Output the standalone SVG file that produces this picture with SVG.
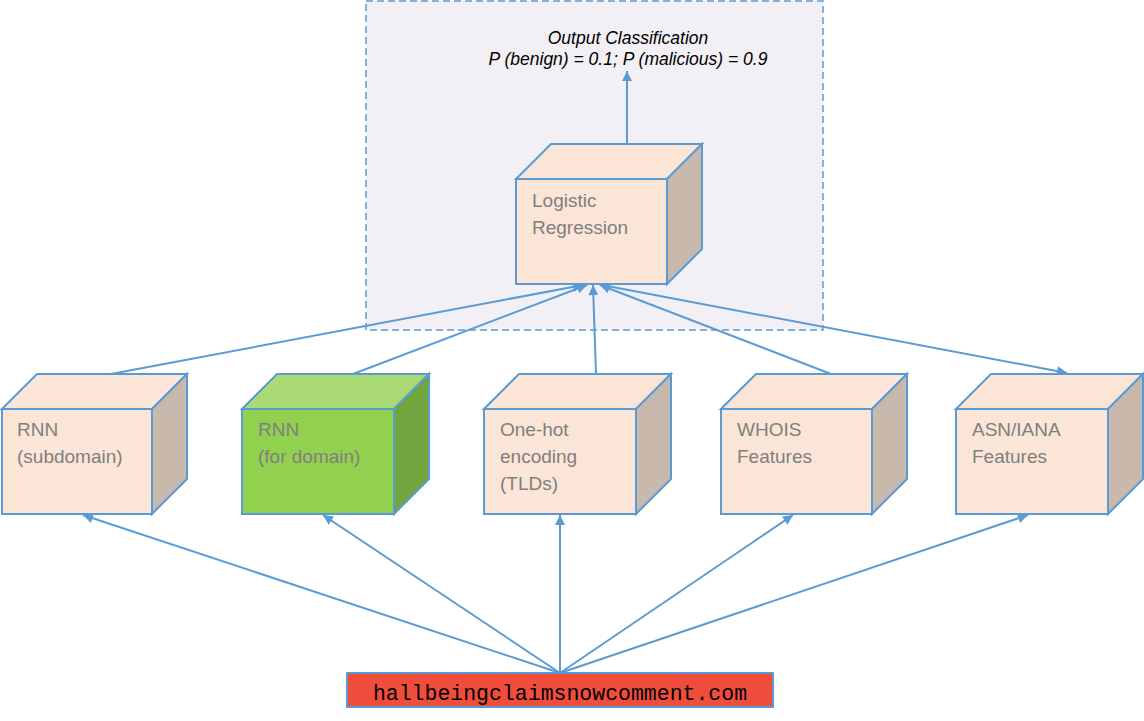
<svg xmlns="http://www.w3.org/2000/svg" width="1144" height="721" viewBox="0 0 1144 721">
<style>
.edge{stroke:#5B9BD5;stroke-width:2;fill:none}
.front{fill:#FBE5D6;stroke:#5B9BD5;stroke-width:2}
.top{fill:#FBE5D6;stroke:#5B9BD5;stroke-width:2;stroke-linejoin:miter}
.side{fill:#C9B8AC;stroke:#5B9BD5;stroke-width:2}
.gfront{fill:#92D050;stroke:#5B9BD5;stroke-width:2}
.gtop{fill:#A9DA74;stroke:#5B9BD5;stroke-width:2}
.gside{fill:#71A63E;stroke:#5B9BD5;stroke-width:2}
.lbl{font-family:"Liberation Sans",Arial,sans-serif;font-size:19px;fill:#7F7F7F}
.out{font-family:"Liberation Sans",Arial,sans-serif;font-size:17.5px;font-style:italic;fill:#000}
.mono{font-family:"Liberation Mono","Courier New",monospace;font-size:21.5px;fill:#000}
</style>
<defs>
<marker id="arr" viewBox="0 0 10 10" refX="10" refY="5" markerWidth="11" markerHeight="10" markerUnits="userSpaceOnUse" orient="auto">
<path d="M0,0 L10,5 L0,10 Z" fill="#5B9BD5"/>
</marker>
</defs>
<rect width="1144" height="721" fill="#fff"/>
<g id="container">
<rect x="366" y="1" width="457" height="329" fill="#F2F0F5" stroke="#5B9BD5" stroke-width="1.5" stroke-dasharray="7 4"/>
</g>
<g id="output">
<text class="out" x="628" y="44" text-anchor="middle">Output Classification</text>
<text class="out" x="628" y="65" text-anchor="middle">P (benign) = 0.1; P (malicious) = 0.9</text>
</g>
<g id="connectors">
<line class="edge" x1="627" y1="144" x2="627" y2="71" marker-end="url(#arr)"/>
<line class="edge" x1="111" y1="374" x2="583" y2="285" marker-end="url(#arr)"/>
<line class="edge" x1="353" y1="374" x2="587" y2="285" marker-end="url(#arr)"/>
<line class="edge" x1="596" y1="374" x2="593" y2="285" marker-end="url(#arr)"/>
<line class="edge" x1="831" y1="374" x2="600" y2="285" marker-end="url(#arr)"/>
<line class="edge" x1="602" y1="285" x2="1067" y2="373" marker-end="url(#arr)"/>
<line class="edge" x1="560" y1="673" x2="83" y2="515" marker-end="url(#arr)"/>
<line class="edge" x1="560" y1="673" x2="323" y2="515" marker-end="url(#arr)"/>
<line class="edge" x1="560" y1="673" x2="560" y2="515" marker-end="url(#arr)"/>
<line class="edge" x1="560" y1="673" x2="793" y2="515" marker-end="url(#arr)"/>
<line class="edge" x1="560" y1="673" x2="1028" y2="515" marker-end="url(#arr)"/>
</g>
<g id="logistic">
<polygon class="top" points="516,179 551,144 702,144 667,179"/>
<polygon class="side" points="667,179 702,144 702,249 667,284"/>
<rect class="front" x="516" y="179" width="151" height="105"/>
<text class="lbl" x="532" y="207">Logistic</text>
<text class="lbl" x="532" y="234">Regression</text>
</g>
<g id="rnn-subdomain">
<polygon class="top" points="2,409 37,374 187,374 152,409"/>
<polygon class="side" points="152,409 187,374 187,479 152,514"/>
<rect class="front" x="2" y="409" width="150" height="105"/>
<text class="lbl" x="17" y="436">RNN</text>
<text class="lbl" x="17" y="463">(subdomain)</text>
</g>
<g id="rnn-domain">
<polygon class="gtop" points="242,409 277,374 429,374 394,409"/>
<polygon class="gside" points="394,409 429,374 429,479 394,514"/>
<rect class="gfront" x="242" y="409" width="152" height="105"/>
<text class="lbl" x="258" y="436">RNN</text>
<text class="lbl" x="258" y="463">(for domain)</text>
</g>
<g id="one-hot">
<polygon class="top" points="484,409 519,374 671,374 636,409"/>
<polygon class="side" points="636,409 671,374 671,479 636,514"/>
<rect class="front" x="484" y="409" width="152" height="105"/>
<text class="lbl" x="500" y="436">One-hot</text>
<text class="lbl" x="500" y="463">encoding</text>
<text class="lbl" x="500" y="490">(TLDs)</text>
</g>
<g id="whois">
<polygon class="top" points="721,409 756,374 907,374 872,409"/>
<polygon class="side" points="872,409 907,374 907,479 872,514"/>
<rect class="front" x="721" y="409" width="151" height="105"/>
<text class="lbl" x="737" y="436">WHOIS</text>
<text class="lbl" x="737" y="463">Features</text>
</g>
<g id="asn">
<polygon class="top" points="956,409 991,374 1143,374 1108,409"/>
<polygon class="side" points="1108,409 1143,374 1143,479 1108,514"/>
<rect class="front" x="956" y="409" width="152" height="105"/>
<text class="lbl" x="972" y="436">ASN/IANA</text>
<text class="lbl" x="972" y="463">Features</text>
</g>
<g id="domain-input">
<rect x="347" y="673" width="426" height="34" fill="#F04D3D" stroke="#5B9BD5" stroke-width="2"/>
<text class="mono" x="560" y="700" text-anchor="middle">hallbeingclaimsnowcomment.com</text>
</g>
</svg>
